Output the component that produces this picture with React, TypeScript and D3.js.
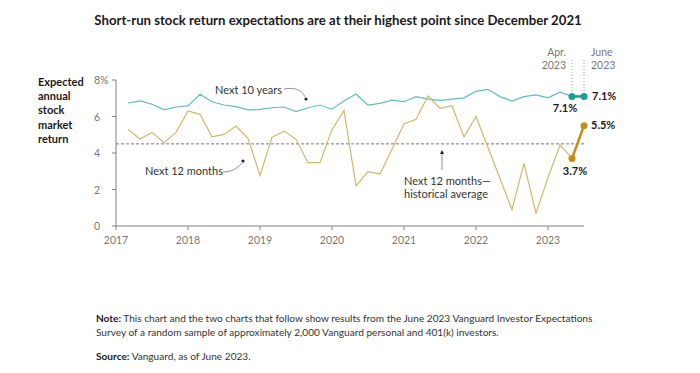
import React from "react";
import * as d3 from "d3";

const months: string[] = [
  "2017-02","2017-04","2017-06","2017-08","2017-10","2017-12",
  "2018-02","2018-04","2018-06","2018-08","2018-10","2018-12",
  "2019-02","2019-04","2019-06","2019-08","2019-10","2019-12",
  "2020-02","2020-04","2020-06","2020-08","2020-10","2020-12",
  "2021-02","2021-04","2021-06","2021-08","2021-10","2021-12",
  "2022-02","2022-04","2022-06","2022-08","2022-10","2022-12",
  "2023-02","2023-04","2023-06",
];

const next12Months: number[] = [
  5.3, 4.77, 5.13, 4.57, 5.13, 6.3,
  6.12, 4.89, 5.02, 5.48, 4.8, 2.77,
  4.86, 5.2, 4.75, 3.47, 3.47, 5.28,
  6.33, 2.2, 2.98, 2.85, 4.2, 5.59,
  5.85, 7.12, 6.45, 6.59, 4.88, 6.0,
  4.3, 2.6, 0.9, 3.43, 0.71, 2.65,
  4.44, 3.7, 5.5,
];

const next10Years: number[] = [
  6.74, 6.86, 6.67, 6.37, 6.52, 6.58,
  7.22, 6.81, 6.63, 6.54, 6.36, 6.39,
  6.48, 6.52, 6.27, 6.48, 6.63, 6.4,
  6.85, 7.23, 6.63, 6.72, 6.9, 6.81,
  7.09, 6.95, 6.88, 6.95, 7.02, 7.38,
  7.49, 7.09, 6.85, 7.09, 7.18, 7.02,
  7.33, 7.1, 7.1,
];

const historicalAverage = 4.5;
const yearTicks: number[] = [2017, 2018, 2019, 2020, 2021, 2022, 2023];
const yTicks: number[] = [0, 2, 4, 6, 8];
const yAxisTitle: string[] = ["Expected", "annual", "stock", "market", "return"];

const title = "Short-run stock return expectations are at their highest point since December 2021";

const FONT = "Lato, 'Open Sans', sans-serif";
const TEAL_LIGHT = "#62bcc0";
const TEAL = "#1f9d98";
const GOLD_LIGHT = "#cdb86e";
const GOLD = "#c48e14";
const GRAY = "#808080";

function toYear(m: string): number {
  const [y, mo] = m.split("-").map(Number);
  return y + mo / 12;
}

export default function App() {
  const W = 700, H = 373;
  const x = d3.scaleLinear().domain([2017, 2023.5]).range([116, 584]);
  const y = d3.scaleLinear().domain([0, 8]).range([226, 80]);

  const pts12 = months.map((m, i) => ({ t: toYear(m), v: next12Months[i] }));
  const pts10 = months.map((m, i) => ({ t: toYear(m), v: next10Years[i] }));
  const n = months.length;

  const line = d3.line<{ t: number; v: number }>().x(d => x(d.t)).y(d => y(d.v));

  const aprT = toYear(months[n - 2]);
  const junT = toYear(months[n - 1]);

  const fmt = (v: number) => v.toFixed(1) + "%";

  return (
    <svg width={W} height={H} style={{ position: "absolute", left: 0, top: 0, background: "#fff" }} fontFamily={FONT}>
      <rect x={0} y={0} width={W} height={H} fill="#fff" />
      <text x={338} y={25} textAnchor="middle" fontSize={13.2} fontWeight={700} fill="#1a1a1a">{title}</text>

      {/* y axis title */}
      {yAxisTitle.map((s, i) => (
        <text key={s} x={38} y={86 + i * 14.2} fontSize={11} fontWeight={700} fill="#1a1a1a">{s}</text>
      ))}

      {/* axes */}
      <line x1={x(2017)} x2={x(2017)} y1={y(8)} y2={y(0)} stroke={GRAY} strokeWidth={1} />
      <line x1={x(2017)} x2={x(2023.5)} y1={y(0)} y2={y(0)} stroke={GRAY} strokeWidth={1} />
      {yTicks.map(t => (
        <g key={t}>
          <line x1={x(2017) - 4} x2={x(2017)} y1={y(t)} y2={y(t)} stroke={GRAY} />
          <text x={100} y={y(t) + 4} textAnchor="end" fontSize={10.5} fill="#777">{t}</text>
          {t === 8 && <text x={100} y={y(t) + 4} fontSize={10.5} fill="#777">%</text>}
        </g>
      ))}
      {yearTicks.map(t => (
        <g key={t}>
          <line x1={x(t)} x2={x(t)} y1={y(0)} y2={y(0) + 4} stroke={GRAY} />
          <text x={x(t)} y={y(0) + 18} textAnchor="middle" fontSize={10.5} fill="#777">{t}</text>
        </g>
      ))}

      {/* historical average */}
      <line x1={x(2017)} x2={x(2023.5)} y1={y(historicalAverage)} y2={y(historicalAverage)} stroke="#777" strokeWidth={1} strokeDasharray="3,2" />

      {/* dotted guides */}
      <line x1={x(aprT)} x2={x(aprT)} y1={60} y2={y(next10Years[n - 2])} stroke="#999" strokeWidth={1} strokeDasharray="1,2" />
      <line x1={x(junT)} x2={x(junT)} y1={60} y2={y(next10Years[n - 1])} stroke="#999" strokeWidth={1} strokeDasharray="1,2" />
      <text x={566} y={56} textAnchor="end" fontSize={10.5} fill="#777">Apr.</text>
      <text x={566} y={69} textAnchor="end" fontSize={10.5} fill="#777">2023</text>
      <text x={591} y={56} fontSize={10.5} fill="#777">June</text>
      <text x={591} y={69} fontSize={10.5} fill="#777">2023</text>

      {/* lines */}
      <path d={line(pts10.slice(0, n - 1)) || ""} fill="none" stroke={TEAL_LIGHT} strokeWidth={1.2} />
      <path d={line(pts12.slice(0, n - 1)) || ""} fill="none" stroke={GOLD_LIGHT} strokeWidth={1.2} />

      <path d={line(pts10.slice(n - 2)) || ""} fill="none" stroke={TEAL} strokeWidth={2.5} />
      <path d={line(pts12.slice(n - 2)) || ""} fill="none" stroke={GOLD} strokeWidth={2.5} />
      {pts10.slice(n - 2).map((p, i) => (
        <circle key={"t" + i} cx={x(p.t)} cy={y(p.v)} r={3.5} fill={TEAL} />
      ))}
      {pts12.slice(n - 2).map((p, i) => (
        <circle key={"g" + i} cx={x(p.t)} cy={y(p.v)} r={3.5} fill={GOLD} />
      ))}

      {/* value labels */}
      <text x={x(junT) + 8} y={y(next10Years[n - 1]) + 4} fontSize={11} fontWeight={700} fill="#1a1a1a">{fmt(next10Years[n - 1])}</text>
      <text x={x(aprT) - 7} y={y(next10Years[n - 2]) + 16} textAnchor="middle" fontSize={11} fontWeight={700} fill="#1a1a1a">{fmt(next10Years[n - 2])}</text>
      <text x={x(junT) + 7} y={y(next12Months[n - 1]) + 3} fontSize={11} fontWeight={700} fill="#1a1a1a">{fmt(next12Months[n - 1])}</text>
      <text x={x(aprT) + 3} y={y(next12Months[n - 2]) + 17} textAnchor="middle" fontSize={11} fontWeight={700} fill="#1a1a1a">{fmt(next12Months[n - 2])}</text>

      {/* annotations */}
      <text x={215} y={94} fontSize={11} fill="#333">Next 10 years</text>
      <path d="M284,89 C295,87 302,90 305,97" fill="none" stroke="#777" strokeWidth={0.8} />
      <circle cx={306} cy={99} r={1.6} fill="#222" />

      <text x={145} y={175} fontSize={11} fill="#333">Next 12 months</text>
      <path d="M223,172 C232,172 238,168 242,163" fill="none" stroke="#777" strokeWidth={0.8} />
      <circle cx={243} cy={161} r={1.6} fill="#222" />

      <text x={404} y={185} fontSize={11} fill="#333">Next 12 months—</text>
      <text x={404} y={198} fontSize={11} fill="#333">historical average</text>
      <line x1={442} x2={442} y1={170} y2={153} stroke="#777" strokeWidth={0.8} />
      <path d="M440,154 L442,150 L444,154 Z" fill="#222" />

      {/* footer */}
      <text x={96} y={322} fontSize={10.1} fill="#333">
        <tspan fontWeight={700} fill="#1a1a1a">Note:</tspan> This chart and the two charts that follow show results from the June 2023 Vanguard Investor Expectations
      </text>
      <text x={96} y={336} fontSize={10.1} fill="#333">Survey of a random sample of approximately 2,000 Vanguard personal and 401(k) investors.</text>
      <text x={96} y={360} fontSize={10.1} fill="#333">
        <tspan fontWeight={700} fill="#1a1a1a">Source:</tspan> Vanguard, as of June 2023.
      </text>
    </svg>
  );
}
